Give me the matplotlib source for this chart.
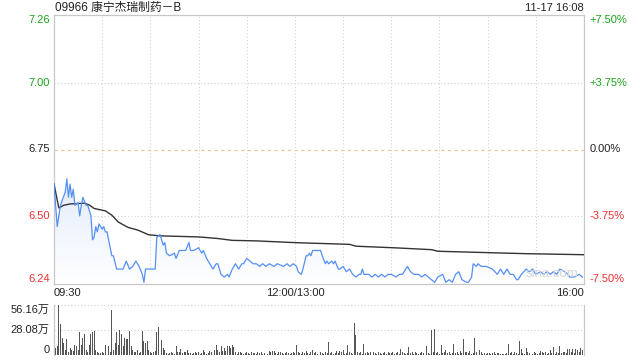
import matplotlib
matplotlib.use("Agg")
import matplotlib.pyplot as plt
import matplotlib.transforms as mtransforms
import numpy as np

plt.rcParams['font.family'] = ['Liberation Sans', 'Noto Sans CJK SC', 'DejaVu Sans']

title = "09966 康宁杰瑞制药－B"
stamp = "11-17 16:08"
prev_close = 6.75

# minutes since 09:30 (trading minutes, lunch removed) and prices
price_t = [0, 2, 4, 7, 8, 9, 10, 11, 12, 13, 15, 16, 17, 18, 20, 21, 23, 24, 25, 26,
           27, 28, 30, 31, 32, 33, 36, 37, 39, 42, 43, 45, 47, 49, 51, 53, 55, 56, 57, 62,
           63, 64, 66, 67, 68, 69, 70, 72, 75, 76, 78, 80, 82, 84, 85, 87, 90, 92, 93, 95,
           97, 99, 101, 102, 104, 106, 108, 109, 111, 113, 115, 116, 117, 118, 120, 122, 124, 126, 128, 130,
           132, 134, 137, 139, 143, 145, 147, 149, 151, 152, 154, 155, 157, 158, 159, 160, 161, 163, 166, 167,
           169, 170, 171, 173, 174, 175, 177, 178, 180, 182, 184, 186, 188, 190, 191, 192, 193, 196, 198, 200,
           202, 204, 206, 208, 210, 213, 215, 217, 220, 222, 224, 227, 229, 231, 233, 235, 237, 239, 242, 244,
           246, 248, 250, 252, 254, 257, 258, 260, 261, 263, 264, 266, 269, 273, 276, 278, 280, 282, 284, 286,
           288, 289, 291, 294, 296, 298, 300, 303, 305, 307, 309, 311, 313, 315, 318, 320, 321, 324, 327, 329]
price_v = [6.62, 6.46, 6.54, 6.59, 6.64, 6.57, 6.62, 6.57, 6.60, 6.54, 6.55, 6.50, 6.54, 6.57, 6.54, 6.54, 6.50, 6.41, 6.42, 6.46,
           6.44, 6.47, 6.45, 6.46, 6.44, 6.44, 6.35, 6.35, 6.30, 6.30, 6.30, 6.33, 6.30, 6.31, 6.33, 6.31, 6.28, 6.25, 6.30, 6.30,
           6.30, 6.42, 6.43, 6.41, 6.39, 6.40, 6.36, 6.35, 6.36, 6.34, 6.37, 6.37, 6.37, 6.40, 6.37, 6.37, 6.38, 6.36, 6.37, 6.34,
           6.32, 6.30, 6.32, 6.32, 6.28, 6.27, 6.28, 6.27, 6.30, 6.32, 6.30, 6.31, 6.32, 6.32, 6.34, 6.33, 6.32, 6.32, 6.31, 6.32,
           6.31, 6.32, 6.31, 6.32, 6.31, 6.32, 6.31, 6.32, 6.31, 6.29, 6.28, 6.30, 6.35, 6.35, 6.36, 6.35, 6.37, 6.37, 6.37, 6.35,
           6.32, 6.33, 6.32, 6.33, 6.32, 6.33, 6.30, 6.30, 6.31, 6.29, 6.30, 6.28, 6.27, 6.28, 6.28, 6.30, 6.28, 6.28, 6.27, 6.28,
           6.27, 6.28, 6.27, 6.28, 6.28, 6.27, 6.28, 6.28, 6.31, 6.29, 6.28, 6.28, 6.27, 6.28, 6.27, 6.26, 6.25, 6.27, 6.28, 6.25,
           6.26, 6.25, 6.28, 6.29, 6.26, 6.25, 6.25, 6.27, 6.32, 6.31, 6.32, 6.31, 6.31, 6.30, 6.28, 6.30, 6.28, 6.30, 6.28, 6.28,
           6.26, 6.26, 6.28, 6.30, 6.29, 6.30, 6.28, 6.29, 6.28, 6.29, 6.28, 6.29, 6.28, 6.30, 6.29, 6.28, 6.27, 6.27, 6.28, 6.27]

avg_t = [0, 3, 6, 10, 19, 22, 25, 32, 36, 40, 46, 52, 59, 66, 90, 102, 111, 126, 152, 184,
         188, 212, 235, 239, 263, 293, 330]
avg_v = [6.62, 6.53, 6.54, 6.545, 6.548, 6.541, 6.528, 6.519, 6.503, 6.477, 6.457, 6.447, 6.429, 6.425, 6.421, 6.415, 6.408, 6.406, 6.399, 6.393,
         6.386, 6.380, 6.373, 6.367, 6.363, 6.358, 6.354]

# volume per minute, in 万 shares
volume = [19.5, 7.8, 9.8, 56.16, 35.0, 19.5, 13.7, 5.9, 17.6, 3.9,
          7.8, 5.9, 4.7, 11.7, 9.8, 5.9, 25.4, 11.7, 19.5, 23.4,
          5.9, 3.9, 11.7, 23.4, 25.4, 27.3, 5.9, 3.9, 2.0, 2.0,
          3.9, 2.0, 11.7, 7.8, 9.8, 3.9, 50.7, 5.9, 13.7, 25.4,
          11.7, 28.0, 23.4, 9.8, 19.5, 17.6, 17.6, 26.5, 9.8, 5.9,
          3.1, 3.9, 5.9, 2.0, 3.9, 26.5, 15.6, 13.7, 15.6, 5.9,
          3.9, 2.0, 3.9, 4.7, 25.4, 31.2, 4.7, 16.4, 7.8, 5.9,
          2.0, 1.6, 2.7, 3.9, 2.0, 1.6, 9.8, 3.1, 3.9, 7.0,
          2.5, 3.1, 3.9, 5.5, 2.0, 2.5, 1.6, 2.0, 3.9, 2.0,
          3.9, 1.6, 2.0, 5.9, 3.1, 1.6, 2.7, 4.7, 3.9, 1.6,
          5.9, 11.7, 5.9, 3.1, 9.8, 4.7, 7.8, 4.7, 10.5, 10.5,
          7.8, 11.7, 8.6, 3.9, 1.6, 3.9,
          3.1, 2.0, 1.6, 2.7, 3.9, 2.0, 1.6, 3.1, 2.0, 2.5,
          1.6, 3.1, 2.0, 3.9, 1.6, 2.0, 2.7, 1.6, 4.7, 3.1,
          4.7, 4.7, 2.0, 1.6, 3.1, 3.9, 2.0, 1.6, 2.5, 3.1,
          2.0, 1.6, 2.7, 3.9, 2.0, 11.7, 3.1, 2.0, 1.6, 3.9,
          2.5, 4.7, 2.0, 1.6, 3.1, 5.9, 2.0, 3.1, 1.6, 4.7,
          3.9, 2.0, 1.6, 3.1, 2.5, 15.0, 2.0, 3.1, 1.6, 2.7,
          4.7, 2.0, 4.7, 3.1, 5.9, 1.6, 2.0, 11.7, 3.1, 2.0,
          1.6, 35.9, 22.6, 3.9, 2.0, 3.1, 1.6, 12.5, 2.0, 3.9,
          2.5, 3.1, 1.6, 3.9, 2.0, 1.6, 3.9, 2.7, 1.6, 2.0,
          3.1, 1.6, 3.1, 2.0, 2.5, 3.9, 1.6, 2.0, 3.1, 1.6,
          7.0, 3.1, 2.0, 1.6, 2.7, 8.6, 2.0, 3.1, 1.6, 3.1,
          2.0, 1.6, 2.5, 3.1, 2.0, 3.9, 9.8, 2.0, 1.6, 28.0,
          3.1, 29.3, 2.0, 3.1, 1.6, 11.7, 2.0, 3.9, 5.9, 2.0,
          3.9, 1.6, 2.7, 12.5, 2.0, 3.9, 1.6, 4.7, 2.0, 17.6,
          3.1, 3.9, 2.0, 4.7, 1.6, 2.5, 18.7, 3.9, 2.0, 5.9,
          3.1, 1.6, 2.0, 1.6, 2.5, 2.7, 1.6, 2.0, 3.1, 1.6,
          2.5, 2.0, 1.6, 0.8, 1.6, 1.6, 2.0, 12.9, 2.0, 3.1,
          1.6, 3.9, 2.0, 1.6, 15.6, 7.0, 2.0, 1.6, 7.8, 3.9,
          2.0, 5.5, 1.6, 3.1, 2.0, 1.6, 2.5, 4.7, 3.9, 2.0,
          3.9, 1.6, 2.0, 5.5, 2.0, 9.4, 1.6, 3.1, 2.0, 9.8,
          2.0, 3.9, 3.1, 2.0, 7.0, 7.0, 3.1, 7.0, 2.0, 7.0,
          5.9, 3.1, 7.8, 6.0, 7.8]

price_ticks = [6.24375, 6.50, 6.75, 7.00, 7.25625]
price_labels = ["6.24", "6.50", "6.75", "7.00", "7.26"]
pct_labels = ["-7.50%", "-3.75%", "0.00%", "+3.75%", "+7.50%"]
vol_ticks = [0, 28.08, 56.16]
vol_labels = ["0", "28.08万", "56.16万"]
time_labels = ["09:30", "12:00/13:00", "16:00"]
time_pos = [0, 150, 330]

W, H = 640, 360
fig = plt.figure(figsize=(6.4, 3.6), dpi=100)
fig.patch.set_facecolor("white")

def box(l, t, r, b):
    return [l / W, 1 - b / H, (r - l) / W, (b - t) / H]

ax = fig.add_axes(box(54, 15, 584, 284))
axv = fig.add_axes(box(54, 305, 584, 355))

ymin, ymax = price_ticks[0], price_ticks[-1]
ax.set_xlim(0, 330)
ax.set_ylim(ymin, ymax)

GRID = "#d2d2d2"
for m in range(30, 330, 30):
    ax.axvline(m, color=GRID, lw=0.8, ls=(0, (1, 2)), zorder=1)
for v in [6.50, 7.00]:
    ax.axhline(v, color=GRID, lw=0.8, ls=(0, (1, 2)), zorder=1)
ax.axhline(prev_close, color="#f3c09a", lw=0.8, ls=(0, (3, 3)), zorder=1)

# gradient fill under price line
pt = np.array(price_t, dtype=float)
pv = np.array(price_v, dtype=float)
poly = ax.fill_between(pt, pv, ymin, color="none", lw=0)
grad = np.linspace(1, 0, 256).reshape(-1, 1)
cmap = matplotlib.colors.LinearSegmentedColormap.from_list("g", ["#ffffff", "#e3ecfb"])
im = ax.imshow(grad, cmap=cmap, aspect="auto", extent=[0, 330, ymin, 6.64],
               origin="upper", zorder=2, vmin=0, vmax=1)
path = poly.get_paths()[0]
im.set_clip_path(path, transform=ax.transData)

ax.plot(pt, pv, color="#5590f5", lw=0.9, zorder=4)
ax.plot(avg_t, avg_v, color="#333333", lw=1.0, zorder=3)

for s in ax.spines.values():
    s.set_color("#c8c8c8")
    s.set_linewidth(0.9)
ax.set_xticks([])
ax.set_yticks([])

FS = 8
GREEN = "#1aa31a"
RED = "#f03030"
trL = mtransforms.blended_transform_factory(ax.transAxes, ax.transData)
for v, lab, pl in zip(price_ticks, price_labels, pct_labels):
    if v > prev_close + 1e-6:
        c = GREEN
    elif v < prev_close - 1e-6:
        c = RED
    else:
        c = "#222222"
    va = "center"
    if v == ymax:
        va = "top"
    elif v == ymin:
        va = "bottom"
    ax.text(-0.008, v, lab, transform=trL, ha="right", va=va, fontsize=FS, color=c)
    ax.text(1.01, v, pl, transform=trL, ha="left", va=va, fontsize=FS, color=c)

trT = mtransforms.blended_transform_factory(ax.transData, ax.transAxes)
for p, lab in zip(time_pos, time_labels):
    ha = "left" if p == 0 else ("right" if p == 330 else "center")
    ax.text(p, -0.035, lab, transform=trT, ha=ha, va="center", fontsize=FS, color="#222222")

fig.text(55 / W, 1 - 8 / H, title, ha="left", va="center", fontsize=8.5, color="#222222")
fig.text(584 / W, 1 - 8 / H, stamp, ha="right", va="center", fontsize=FS, color="#222222")
ax.text(0.94, 0.015, "sina.com", transform=ax.transAxes, ha="center", va="bottom", fontsize=9.5,
        color="#d6d6d6", zorder=5)

# volume panel
mins = np.arange(len(volume))
axv.bar(mins, volume, width=0.6, color="#555555", zorder=3)
axv.set_xlim(0, 330)
axv.set_ylim(0, 56.16)
axv.axhline(28.08, color=GRID, lw=0.8, ls=(0, (1, 2)), zorder=1)
axv.axhline(56.16, color=GRID, lw=0.8, ls=(0, (1, 2)), zorder=1, clip_on=False)
axv.set_xticks([])
axv.set_yticks([])
for k, s in axv.spines.items():
    if k in ("left", "right"):
        s.set_color("#c8c8c8")
        s.set_linewidth(0.9)
    else:
        s.set_visible(False)
trV = mtransforms.blended_transform_factory(axv.transAxes, axv.transData)
for v, lab in zip(vol_ticks, vol_labels):
    va = "center"
    if v == vol_ticks[-1]:
        va = "top"
    elif v == 0:
        va = "bottom"
    axv.text(-0.008, v, lab, transform=trV, ha="right", va=va, fontsize=FS, color="#222222")

fig.savefig("out.png", dpi=100)
